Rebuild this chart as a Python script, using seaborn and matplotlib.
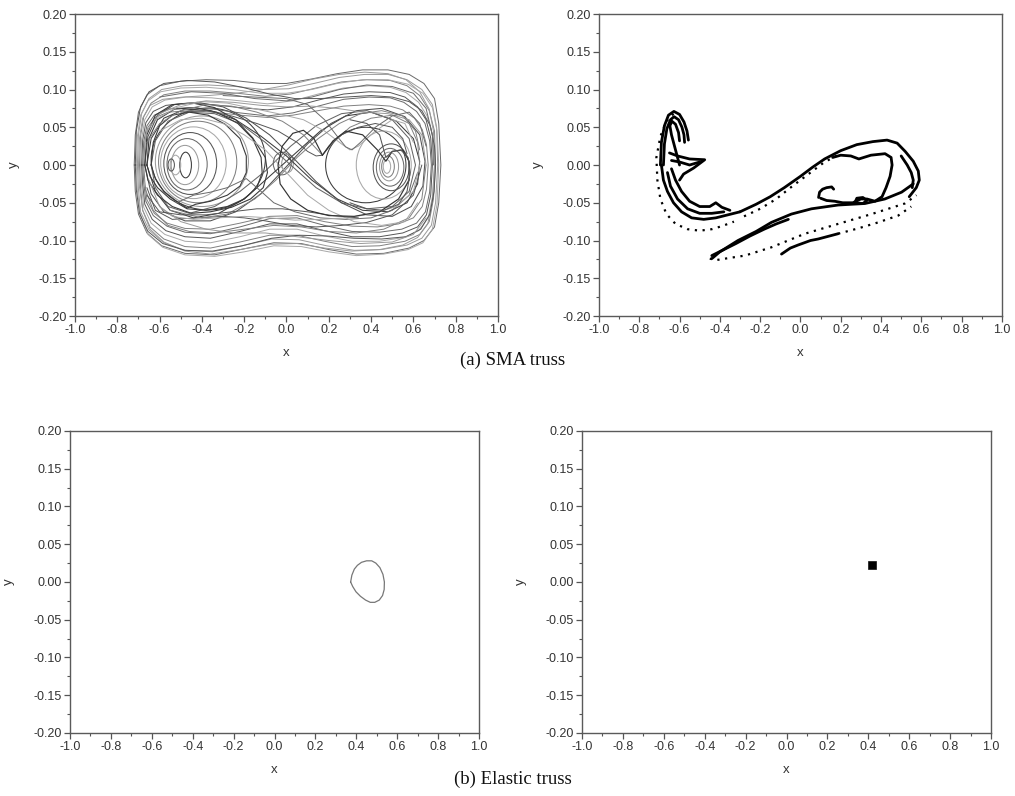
import numpy as np
import matplotlib
matplotlib.use("Agg")
import matplotlib.pyplot as plt
from matplotlib.patches import Ellipse
from matplotlib.ticker import MultipleLocator, FormatStrFormatter
import seaborn as sns

# ---------------- data ----------------
X_TICKS = [-1.0, -0.8, -0.6, -0.4, -0.2, 0.0, 0.2, 0.4, 0.6, 0.8, 1.0]
Y_TICKS = [-0.20, -0.15, -0.10, -0.05, 0.00, 0.05, 0.10, 0.15, 0.20]
CAPTIONS = ["(a) SMA truss", "(b) Elastic truss"]

# (a) left: phase trajectory of the SMA truss -- large orbits around both wells
OUT1 = [(-0.72,0.0),(-0.715,0.04),(-0.70,0.07),(-0.66,0.093),(-0.60,0.105),(-0.50,0.111),(-0.38,0.113),(-0.25,0.112),(-0.12,0.108),(0.00,0.108),(0.12,0.114),(0.24,0.121),(0.36,0.126),(0.48,0.126),(0.58,0.12),(0.65,0.108),(0.70,0.088),(0.72,0.055),(0.73,0.0),(0.72,-0.05),(0.70,-0.082),(0.65,-0.1),(0.58,-0.11),(0.46,-0.117),(0.33,-0.118),(0.20,-0.112),(0.07,-0.104),(-0.06,-0.103),(-0.20,-0.111),(-0.34,-0.119),(-0.48,-0.117),(-0.59,-0.107),(-0.66,-0.09),(-0.70,-0.065),(-0.715,-0.035),(-0.72,0.0)]
OUT2 = [(-0.705,0.0),(-0.70,0.04),(-0.685,0.068),(-0.65,0.088),(-0.59,0.1),(-0.49,0.105),(-0.37,0.106),(-0.24,0.104),(-0.11,0.1),(0.01,0.101),(0.13,0.108),(0.25,0.116),(0.37,0.12),(0.48,0.12),(0.57,0.113),(0.64,0.1),(0.69,0.08),(0.71,0.05),(0.715,0.0),(0.705,-0.05),(0.685,-0.08),(0.64,-0.097),(0.57,-0.106),(0.45,-0.112),(0.32,-0.113),(0.19,-0.107),(0.06,-0.099),(-0.07,-0.098),(-0.21,-0.107),(-0.35,-0.115),(-0.48,-0.113),(-0.58,-0.103),(-0.65,-0.086),(-0.69,-0.062),(-0.70,-0.032),(-0.705,0.0)]
OUT3 = [(-0.695,0.0),(-0.69,0.038),(-0.675,0.064),(-0.64,0.082),(-0.58,0.093),(-0.48,0.098),(-0.36,0.098),(-0.23,0.095),(-0.10,0.091),(0.02,0.094),(0.14,0.102),(0.26,0.11),(0.38,0.113),(0.49,0.112),(0.57,0.105),(0.63,0.092),(0.675,0.072),(0.70,0.045),(0.705,0.0),(0.695,-0.045),(0.675,-0.075),(0.63,-0.092),(0.56,-0.101),(0.44,-0.107),(0.31,-0.108),(0.18,-0.101),(0.05,-0.093),(-0.08,-0.093),(-0.22,-0.102),(-0.36,-0.11),(-0.48,-0.108),(-0.58,-0.098),(-0.645,-0.082),(-0.68,-0.06),(-0.69,-0.03),(-0.695,0.0)]
OUT4 = [(-0.69,0.0),(-0.685,0.035),(-0.67,0.06),(-0.635,0.077),(-0.575,0.086),(-0.475,0.09),(-0.355,0.089),(-0.22,0.085),(-0.09,0.081),(0.03,0.085),(0.15,0.094),(0.27,0.102),(0.39,0.105),(0.49,0.103),(0.565,0.096),(0.625,0.083),(0.665,0.065),(0.69,0.04),(0.70,0.0),(0.69,-0.042),(0.67,-0.07),(0.625,-0.087),(0.555,-0.096),(0.44,-0.101),(0.31,-0.101),(0.18,-0.094),(0.05,-0.085),(-0.08,-0.085),(-0.22,-0.095),(-0.36,-0.103),(-0.48,-0.101),(-0.575,-0.092),(-0.64,-0.077),(-0.675,-0.056),(-0.685,-0.028),(-0.69,0.0)]
OUT5 = [(-0.685,0.0),(-0.68,0.033),(-0.665,0.056),(-0.63,0.071),(-0.57,0.079),(-0.47,0.082),(-0.35,0.08),(-0.22,0.076),(-0.09,0.073),(0.03,0.077),(0.15,0.086),(0.27,0.094),(0.39,0.097),(0.49,0.096),(0.56,0.09),(0.62,0.077),(0.66,0.06),(0.682,0.036),(0.69,0.0),(0.682,-0.04),(0.662,-0.066),(0.62,-0.082),(0.55,-0.09),(0.44,-0.095),(0.31,-0.095),(0.18,-0.087),(0.05,-0.078),(-0.08,-0.078),(-0.22,-0.088),(-0.36,-0.097),(-0.48,-0.095),(-0.57,-0.087),(-0.635,-0.072),(-0.67,-0.052),(-0.68,-0.026),(-0.685,0.0)]
OUT6 = [(-0.68,0.0),(-0.675,0.031),(-0.66,0.052),(-0.625,0.066),(-0.565,0.074),(-0.465,0.076),(-0.345,0.074),(-0.22,0.069),(-0.09,0.065),(0.03,0.069),(0.15,0.078),(0.27,0.087),(0.39,0.09),(0.49,0.089),(0.555,0.083),(0.615,0.071),(0.655,0.055),(0.677,0.032),(0.685,0.0),(0.677,-0.036),(0.657,-0.062),(0.615,-0.077),(0.545,-0.085),(0.44,-0.089),(0.31,-0.088),(0.18,-0.08),(0.05,-0.07),(-0.08,-0.071),(-0.22,-0.082),(-0.36,-0.091),(-0.48,-0.089),(-0.565,-0.081),(-0.63,-0.067),(-0.665,-0.048),(-0.675,-0.024),(-0.68,0.0)]
OUT7 = [(-0.70,0.0),(-0.695,0.036),(-0.68,0.062),(-0.645,0.079),(-0.585,0.087),(-0.49,0.09),(-0.37,0.092),(-0.24,0.095),(-0.11,0.1),(0.01,0.106),(0.13,0.114),(0.25,0.12),(0.37,0.123),(0.48,0.121),(0.565,0.113),(0.63,0.097),(0.675,0.074),(0.695,0.045),(0.70,0.0),(0.69,-0.048),(0.668,-0.078),(0.62,-0.096),(0.55,-0.106),(0.44,-0.112),(0.31,-0.114),(0.18,-0.11),(0.05,-0.104),(-0.08,-0.105),(-0.22,-0.112),(-0.36,-0.118),(-0.48,-0.114),(-0.58,-0.102),(-0.645,-0.085),(-0.68,-0.06),(-0.695,-0.03),(-0.70,0.0)]
OUT8 = [(-0.675,0.0),(-0.67,0.03),(-0.655,0.05),(-0.62,0.063),(-0.56,0.07),(-0.46,0.072),(-0.34,0.07),(-0.22,0.066),(-0.09,0.063),(0.03,0.066),(0.15,0.072),(0.27,0.078),(0.39,0.08),(0.49,0.078),(0.55,0.073),(0.605,0.062),(0.642,0.047),(0.662,0.027),(0.67,0.0),(0.662,-0.032),(0.642,-0.055),(0.6,-0.07),(0.53,-0.078),(0.43,-0.082),(0.31,-0.081),(0.18,-0.075),(0.05,-0.067),(-0.08,-0.068),(-0.22,-0.077),(-0.36,-0.085),(-0.48,-0.084),(-0.565,-0.077),(-0.625,-0.064),(-0.66,-0.046),(-0.67,-0.022),(-0.675,0.0)]
OUT9 = [(-0.71,0.0),(-0.705,0.038),(-0.69,0.066),(-0.655,0.085),(-0.595,0.097),(-0.5,0.102),(-0.38,0.103),(-0.25,0.1),(-0.12,0.095),(0.0,0.095),(0.12,0.1),(0.24,0.108),(0.36,0.113),(0.48,0.113),(0.575,0.107),(0.645,0.095),(0.69,0.076),(0.712,0.045),(0.72,0.0),(0.712,-0.052),(0.69,-0.085),(0.645,-0.103),(0.575,-0.112),(0.46,-0.118),(0.33,-0.12),(0.2,-0.115),(0.07,-0.108),(-0.06,-0.107),(-0.2,-0.115),(-0.34,-0.121),(-0.48,-0.119),(-0.585,-0.109),(-0.655,-0.092),(-0.69,-0.066),(-0.705,-0.034),(-0.71,0.0)]
OUT10 = [(-0.715,0.0),(-0.71,0.045),(-0.69,0.077),(-0.65,0.097),(-0.58,0.108),(-0.47,0.112),(-0.34,0.11),(-0.21,0.103),(-0.08,0.094),(0.04,0.088),(0.16,0.088),(0.28,0.09),(0.40,0.092),(0.50,0.09),(0.58,0.084),(0.64,0.072),(0.68,0.052),(0.70,0.025),(0.705,0.0),(0.698,-0.035),(0.678,-0.065),(0.635,-0.085),(0.565,-0.095),(0.45,-0.098),(0.32,-0.097),(0.19,-0.094),(0.06,-0.093),(-0.07,-0.097),(-0.21,-0.107),(-0.35,-0.114),(-0.48,-0.113),(-0.585,-0.104),(-0.655,-0.088),(-0.695,-0.064),(-0.71,-0.033),(-0.715,0.0)]

# figure-eight passages between the wells
FIG1 = [(-0.66,0.0),(-0.64,0.035),(-0.58,0.062),(-0.48,0.074),(-0.36,0.072),(-0.24,0.06),(-0.12,0.038),(0.0,0.012),(0.12,-0.02),(0.24,-0.045),(0.36,-0.06),(0.48,-0.062),(0.57,-0.05),(0.62,-0.025),(0.63,0.005),(0.60,0.035),(0.52,0.058),(0.40,0.07),(0.28,0.065),(0.16,0.045),(0.04,0.015),(-0.08,-0.015),(-0.20,-0.045),(-0.32,-0.064),(-0.44,-0.07),(-0.55,-0.06),(-0.62,-0.035),(-0.66,0.0)]
FIG2 = [(-0.64,0.0),(-0.62,0.032),(-0.56,0.058),(-0.46,0.07),(-0.34,0.068),(-0.22,0.055),(-0.10,0.03),(0.02,0.0),(0.14,-0.03),(0.26,-0.05),(0.38,-0.058),(0.50,-0.055),(0.58,-0.035),(0.61,0.0),(0.58,0.035),(0.50,0.06),(0.38,0.072),(0.26,0.068),(0.14,0.052),(0.02,0.025),(-0.10,-0.008),(-0.22,-0.035),(-0.34,-0.055),(-0.46,-0.064),(-0.56,-0.055),(-0.62,-0.03),(-0.64,0.0)]
FIG3 = [(-0.67,0.0),(-0.655,0.038),(-0.61,0.066),(-0.53,0.08),(-0.42,0.083),(-0.3,0.077),(-0.19,0.062),(-0.08,0.04),(0.03,0.01),(0.14,-0.022),(0.26,-0.05),(0.38,-0.066),(0.5,-0.068),(0.59,-0.055),(0.645,-0.028),(0.655,0.005),(0.63,0.04),(0.56,0.064),(0.45,0.075),(0.33,0.072),(0.21,0.055),(0.1,0.028),(-0.01,-0.005),(-0.12,-0.038),(-0.24,-0.062),(-0.36,-0.074),(-0.48,-0.074),(-0.58,-0.062),(-0.64,-0.038),(-0.67,0.0)]

# loops around the left well
LEFT1 = [(-0.66,0.0),(-0.65,0.035),(-0.61,0.06),(-0.53,0.074),(-0.43,0.076),(-0.33,0.07),(-0.23,0.055),(-0.16,0.035),(-0.12,0.01),(-0.115,-0.01),(-0.14,-0.03),(-0.2,-0.045),(-0.28,-0.055),(-0.38,-0.06),(-0.47,-0.058),(-0.55,-0.045),(-0.61,-0.03),(-0.645,-0.015),(-0.66,0.0)]
LEFT2 = [(-0.64,0.0),(-0.63,0.03),(-0.6,0.052),(-0.54,0.066),(-0.46,0.07),(-0.37,0.066),(-0.29,0.054),(-0.22,0.035),(-0.19,0.012),(-0.19,-0.01),(-0.22,-0.028),(-0.28,-0.04),(-0.36,-0.048),(-0.43,-0.052),(-0.47,-0.057),(-0.52,-0.048),(-0.58,-0.035),(-0.62,-0.018),(-0.64,0.0)]
LEFT3 = [(-0.67,0.0),(-0.66,0.04),(-0.62,0.066),(-0.54,0.08),(-0.44,0.082),(-0.34,0.076),(-0.24,0.06),(-0.16,0.036),(-0.1,0.01),(-0.09,-0.01),(-0.11,-0.03),(-0.17,-0.045),(-0.26,-0.056),(-0.36,-0.062),(-0.45,-0.064),(-0.54,-0.055),(-0.61,-0.04),(-0.655,-0.02),(-0.67,0.0)]
# passing bands
BAND1 = [(-0.66,0.03),(-0.60,0.055),(-0.50,0.072),(-0.38,0.08),(-0.26,0.078),(-0.14,0.07),(-0.02,0.058),(0.08,0.04),(0.14,0.022),(0.17,0.013),(0.22,0.03),(0.30,0.05),(0.40,0.062),(0.50,0.066),(0.58,0.055),(0.62,0.03),(0.63,0.0)]
BAND2 = [(-0.62,0.06),(-0.52,0.076),(-0.40,0.084),(-0.28,0.082),(-0.16,0.075),(-0.04,0.068),(0.08,0.06),(0.18,0.045),(0.26,0.028),(0.30,0.02),(0.34,0.025),(0.42,0.045),(0.50,0.06),(0.56,0.055),(0.60,0.03)]
BAND3 = [(0.64,0.0),(0.60,-0.04),(0.50,-0.066),(0.38,-0.076),(0.26,-0.08),(0.14,-0.082),(0.02,-0.08),(-0.10,-0.074),(-0.20,-0.07),(-0.30,-0.068),(-0.42,-0.07),(-0.54,-0.072),(-0.62,-0.06),(-0.66,-0.03)]
BAND4 = [(-0.52,-0.05),(-0.44,-0.04),(-0.36,-0.036),(-0.28,-0.03),(-0.22,-0.022),(-0.19,-0.018),(-0.14,-0.03),(-0.06,-0.05),(0.04,-0.062),(0.16,-0.07),(0.28,-0.072),(0.40,-0.07),(0.50,-0.06),(0.58,-0.04),(0.62,-0.01)]
BAND5 = [(-0.68,0.01),(-0.66,0.045),(-0.6,0.068),(-0.5,0.08),(-0.38,0.085),(-0.25,0.083),(-0.12,0.079),(0.0,0.077),(0.12,0.078),(0.24,0.075),(0.36,0.07),(0.48,0.068),(0.58,0.06),(0.64,0.04),(0.66,0.0)]
BAND6 = [(0.66,0.0),(0.64,-0.045),(0.58,-0.07),(0.46,-0.085),(0.33,-0.09),(0.2,-0.088),(0.07,-0.082),(-0.06,-0.08),(-0.2,-0.085),(-0.34,-0.09),(-0.46,-0.088),(-0.56,-0.08),(-0.63,-0.06),(-0.67,-0.03)]
BAND7 = [(0.63,0.0),(0.6,-0.035),(0.52,-0.055),(0.4,-0.065),(0.28,-0.07),(0.16,-0.072),(0.04,-0.073),(-0.08,-0.07),(-0.2,-0.068),(-0.32,-0.07),(-0.44,-0.072),(-0.54,-0.068),(-0.6,-0.055)]
BAND8 = [(-0.5,0.07),(-0.38,0.072),(-0.26,0.065),(-0.14,0.055),(-0.04,0.045),(0.05,0.03),(0.1,0.018),(0.14,0.012),(0.17,0.013),(0.2,0.025),(0.26,0.04),(0.34,0.05),(0.42,0.055),(0.5,0.05),(0.55,0.035),(0.57,0.015)]
BAND9 = [(-0.6,0.09),(-0.45,0.097),(-0.3,0.095),(-0.15,0.088),(0.0,0.085),(0.12,0.09),(0.25,0.1),(0.38,0.106),(0.5,0.104),(0.6,0.095),(0.66,0.075),(0.69,0.04),(0.695,0.0)]
BAND10 = [(-0.65,-0.02),(-0.6,-0.055),(-0.5,-0.075),(-0.38,-0.085),(-0.25,-0.09),(-0.1,-0.09),(0.05,-0.095),(0.2,-0.1),(0.35,-0.104),(0.5,-0.102),(0.6,-0.092),(0.66,-0.07)]
BAND11 = [(-0.55,-0.06),(-0.4,-0.07),(-0.28,-0.065),(-0.15,-0.045),(-0.05,-0.02),(0.05,0.01),(0.15,0.035),(0.25,0.055),(0.35,0.068),(0.45,0.072),(0.55,0.065),(0.61,0.045),(0.63,0.02)]
BAND12 = [(-0.6,0.045),(-0.5,0.06),(-0.4,0.062),(-0.3,0.055),(-0.2,0.04),(-0.1,0.02),(0.0,-0.01),(0.1,-0.04),(0.2,-0.06),(0.32,-0.075),(0.45,-0.08),(0.56,-0.075),(0.62,-0.05)]
BAND13 = [(-0.66,-0.04),(-0.6,-0.062),(-0.5,-0.066),(-0.38,-0.066),(-0.26,-0.062),(-0.14,-0.058),(-0.02,-0.058),(0.1,-0.062),(0.22,-0.067),(0.34,-0.07)]
BAND14 = [(-0.3,0.092),(-0.15,0.09),(0.0,0.088),(0.1,0.08),(0.18,0.06),(0.24,0.038),(0.28,0.024),(0.31,0.02),(0.35,0.03),(0.42,0.05),(0.5,0.065),(0.58,0.07),(0.63,0.055),(0.66,0.025)]
# heart-shaped loop and right-lobe turn
HEART = [(0.17,0.013),(0.13,0.035),(0.08,0.046),(0.03,0.042),(-0.02,0.025),(-0.04,0.0),(-0.03,-0.025),(0.02,-0.045),(0.10,-0.06),(0.20,-0.067),(0.32,-0.068),(0.44,-0.062),(0.53,-0.045),(0.58,-0.02),(0.58,0.005),(0.55,0.02),(0.50,0.018),(0.47,0.005),(0.43,0.02),(0.36,0.04),(0.28,0.045),(0.22,0.032),(0.17,0.013)]
RIGHT1 = [(0.3,0.06),(0.38,0.055),(0.44,0.04),(0.47,0.01),(0.5,0.018),(0.54,0.02),(0.575,0.01),(0.585,-0.01),(0.57,-0.035),(0.53,-0.052),(0.46,-0.06),(0.38,-0.058),(0.3,-0.05)]

# near-elliptic loops: (centre x, centre y, width, height)
LOOP_CX = [-0.37, -0.40, -0.42, -0.44, -0.455, -0.47, -0.48, -0.477, -0.525, -0.545, -0.02, 0.005, 0.375, 0.46, 0.495, 0.49, 0.485, 0.48, 0.475]
LOOP_CY = [0.008, 0.005, 0.004, 0.003, 0.002, 0.001, 0.0, 0.0, 0.0, 0.0, 0.002, 0.002, 0.0, 0.0, -0.003, -0.003, -0.002, -0.002, -0.002]
LOOP_W = [0.54, 0.44, 0.37, 0.31, 0.25, 0.19, 0.13, 0.055, 0.05, 0.03, 0.085, 0.055, 0.38, 0.26, 0.17, 0.13, 0.09, 0.06, 0.035]
LOOP_H = [0.135, 0.12, 0.108, 0.095, 0.082, 0.068, 0.052, 0.034, 0.026, 0.016, 0.03, 0.024, 0.1, 0.09, 0.062, 0.05, 0.038, 0.028, 0.018]

# (a) right: Poincare section (dense bands)
P_HOOK_OUT = [(-0.695,0.0),(-0.69,0.03),(-0.675,0.052),(-0.655,0.066),(-0.628,0.071),(-0.6,0.067),(-0.578,0.057),(-0.563,0.045),(-0.556,0.033)]
P_HOOK_MID = [(-0.68,0.0),(-0.675,0.028),(-0.663,0.048),(-0.645,0.06),(-0.627,0.064),(-0.605,0.06),(-0.588,0.05),(-0.578,0.04),(-0.575,0.03)]
P_HOOK_IN = [(-0.6,0.0),(-0.62,0.02),(-0.64,0.04),(-0.648,0.052),(-0.638,0.058),(-0.62,0.054),(-0.605,0.043),(-0.6,0.032)]
P_ZIGZAG = [(-0.65,0.016),(-0.61,0.012),(-0.55,0.008),(-0.475,0.007),(-0.53,-0.004),(-0.58,-0.012),(-0.6,-0.02)]
P_ZIGZAG2 = [(-0.64,0.006),(-0.6,0.004),(-0.55,0.0),(-0.5,0.004)]
P_BAND_A = [(-0.69,0.0),(-0.68,-0.02),(-0.66,-0.035),(-0.63,-0.05),(-0.59,-0.062),(-0.54,-0.07),(-0.48,-0.072),(-0.42,-0.07),(-0.36,-0.066),(-0.3,-0.062)]
P_BAND_B = [(-0.64,-0.005),(-0.62,-0.02),(-0.59,-0.035),(-0.55,-0.048),(-0.5,-0.055),(-0.45,-0.055),(-0.42,-0.05),(-0.39,-0.056),(-0.35,-0.06)]
P_BAND_C = [(-0.66,-0.01),(-0.645,-0.028),(-0.61,-0.045),(-0.56,-0.058),(-0.5,-0.064),(-0.44,-0.064),(-0.38,-0.062)]
P_MAIN = [(-0.3,-0.062),(-0.22,-0.052),(-0.15,-0.042),(-0.08,-0.03),(0.0,-0.015),(0.06,-0.003),(0.12,0.008),(0.2,0.019),(0.28,0.027),(0.36,0.031),(0.43,0.033),(0.48,0.029),(0.52,0.018),(0.56,0.005),(0.585,-0.008),(0.59,-0.02),(0.575,-0.03),(0.54,-0.042)]
P_INNER = [(0.16,0.01),(0.2,0.013),(0.25,0.012),(0.29,0.008),(0.35,0.013),(0.42,0.015),(0.45,0.01),(0.455,0.0),(0.445,-0.015),(0.425,-0.03),(0.405,-0.042),(0.37,-0.048),(0.33,-0.045),(0.3,-0.045),(0.26,-0.05),(0.21,-0.05),(0.17,-0.048),(0.13,-0.047),(0.1,-0.044)]
P_LITTLE_HOOK = [(0.09,-0.043),(0.095,-0.036),(0.11,-0.032),(0.13,-0.03),(0.155,-0.029),(0.165,-0.032)]
P_BLOB = [(0.27,-0.05),(0.28,-0.044),(0.31,-0.043),(0.33,-0.047),(0.31,-0.051),(0.27,-0.05)]
P_RIGHT_IN = [(0.5,0.012),(0.53,0.0),(0.55,-0.01),(0.56,-0.02),(0.555,-0.03)]
P_TAIL_UP = [(-0.44,-0.124),(-0.4,-0.115),(-0.31,-0.1),(-0.22,-0.088),(-0.144,-0.076),(-0.045,-0.065),(0.055,-0.058),(0.187,-0.053),(0.32,-0.051),(0.419,-0.045),(0.502,-0.036),(0.56,-0.025)]
P_TAIL_IN = [(-0.44,-0.12),(-0.38,-0.112),(-0.32,-0.104),(-0.25,-0.094),(-0.18,-0.085),(-0.12,-0.078),(-0.06,-0.072)]
P_LOW = [(-0.094,-0.118),(-0.05,-0.11),(-0.012,-0.106),(0.05,-0.1),(0.088,-0.098),(0.187,-0.091)]
# sparse (dotted) parts of the section
S_OUTER = [(-0.63,0.068),(-0.665,0.058),(-0.695,0.038),(-0.715,0.01),(-0.71,-0.02),(-0.695,-0.045),(-0.665,-0.065),(-0.62,-0.078),(-0.56,-0.085),(-0.5,-0.087),(-0.44,-0.085),(-0.39,-0.081),(-0.33,-0.075)]
S_TAIL = [(-0.45,-0.124),(-0.42,-0.126),(-0.35,-0.123),(-0.276,-0.12),(-0.144,-0.109),(0.022,-0.091),(0.187,-0.078),(0.353,-0.065),(0.518,-0.051),(0.576,-0.04)]
S_LOW = [(0.187,-0.091),(0.286,-0.084),(0.386,-0.076),(0.485,-0.067),(0.55,-0.055)]
S_MID = [(-0.28,-0.068),(-0.2,-0.058),(-0.12,-0.045),(-0.04,-0.028),(0.04,-0.012),(0.12,0.004),(0.2,0.015)]

# (b) left: periodic orbit of the elastic truss
ELASTIC = [(0.372,0.0),(0.378,0.009),(0.39,0.017),(0.405,0.022),(0.425,0.026),(0.45,0.028),(0.475,0.028),(0.495,0.025),(0.515,0.019),(0.53,0.01),(0.537,0.0),(0.536,-0.01),(0.528,-0.018),(0.512,-0.024),(0.49,-0.027),(0.468,-0.027),(0.445,-0.024),(0.42,-0.019),(0.398,-0.013),(0.382,-0.006),(0.372,0.0)]
# (b) right: single fixed point of the Poincare map
FIX_X = [0.42]
FIX_Y = [0.022]

# ---------------- figure ----------------
sns.set_theme(style="ticks")
plt.rcParams["font.family"] = ["Liberation Sans", "DejaVu Sans"]
plt.rcParams["axes.unicode_minus"] = False

fig = plt.figure(figsize=(10.15, 7.96), dpi=100)
fig.patch.set_facecolor("white")
ax_tl = fig.add_axes([0.0739, 0.603, 0.4167, 0.3794])
ax_tr = fig.add_axes([0.5901, 0.603, 0.3970, 0.3794])
ax_bl = fig.add_axes([0.0690, 0.0792, 0.4030, 0.3794])
ax_br = fig.add_axes([0.5734, 0.0792, 0.4030, 0.3794])


def style(ax):
    ax.set_xlim(-1.0, 1.0)
    ax.set_ylim(-0.2, 0.2)
    ax.set_xticks(X_TICKS)
    ax.set_yticks(Y_TICKS)
    ax.xaxis.set_minor_locator(MultipleLocator(0.1))
    ax.yaxis.set_minor_locator(MultipleLocator(0.025))
    ax.xaxis.set_major_formatter(FormatStrFormatter("%.1f"))
    ax.yaxis.set_major_formatter(FormatStrFormatter("%.2f"))
    ax.tick_params(which="major", direction="out", length=4, width=0.9, color="#555555",
                   labelsize=9, labelcolor="#333333", pad=2, top=False, right=False)
    ax.tick_params(which="minor", direction="out", length=2.5, width=0.8, color="#555555",
                   top=False, right=False)
    for s in ax.spines.values():
        s.set_visible(True)
        s.set_color("#5a5a5a")
        s.set_linewidth(1.0)
    ax.set_facecolor("white")
    ax.set_xlabel("x", fontsize=9.5, color="#333333", labelpad=8)
    ax.set_ylabel("y", fontsize=9.5, color="#333333", labelpad=13)


def curve(ax, pts, color, lw, ls="-", alpha=1.0):
    xs = [p[0] for p in pts]
    ys = [p[1] for p in pts]
    sns.lineplot(x=xs, y=ys, sort=False, estimator=None, ax=ax, color=color,
                 lw=lw, linestyle=ls, alpha=alpha)


# --- (a) left: trajectory
grays = ["#6a6a6a", "#9a9a9a", "#808080", "#a8a8a8", "#555555"]
outer = [OUT1, OUT2, OUT3, OUT4, OUT5, OUT6, OUT7, OUT8, OUT9, OUT10]
for i, o in enumerate(outer):
    curve(ax_tl, o, grays[i % len(grays)], 0.7)
for i, o in enumerate([FIG1, FIG2, FIG3]):
    curve(ax_tl, o, ["#3c3c3c", "#666666", "#505050"][i], 0.75)
for o in [LEFT1, LEFT2, LEFT3]:
    curve(ax_tl, o, "#3a3a3a", 0.8)
bands = [BAND1, BAND2, BAND3, BAND4, BAND5, BAND6, BAND7, BAND8,
         BAND9, BAND10, BAND11, BAND12, BAND13, BAND14]
for i, o in enumerate(bands):
    curve(ax_tl, o, grays[(i + 2) % len(grays)], 0.7)
curve(ax_tl, HEART, "#333333", 0.85)
curve(ax_tl, RIGHT1, "#555555", 0.75)
for i in range(len(LOOP_CX)):
    col = "#3a3a3a" if i in (0, 7, 12) else grays[i % len(grays)]
    ax_tl.add_patch(Ellipse((LOOP_CX[i], LOOP_CY[i]), LOOP_W[i], LOOP_H[i],
                            fill=False, ec=col, lw=0.75))

# --- (a) right: Poincare section
for pts in [P_HOOK_OUT, P_HOOK_MID, P_HOOK_IN, P_ZIGZAG, P_ZIGZAG2, P_BAND_A, P_BAND_B,
            P_BAND_C, P_MAIN, P_INNER, P_LITTLE_HOOK, P_BLOB, P_RIGHT_IN, P_TAIL_UP,
            P_TAIL_IN, P_LOW]:
    curve(ax_tr, pts, "black", 2.0)
for pts in [S_OUTER, S_TAIL, S_LOW, S_MID]:
    curve(ax_tr, pts, "black", 1.6, ls=(0, (1, 2.5)))

# --- (b) left: periodic orbit
curve(ax_bl, ELASTIC, "#777777", 0.9)

# --- (b) right: fixed point
sns.scatterplot(x=FIX_X, y=FIX_Y, marker="s", s=30, color="black", edgecolor="black",
                ax=ax_br, zorder=5)

for ax in (ax_tl, ax_tr, ax_bl, ax_br):
    style(ax)

fig.text(0.505, 1 - 360 / 796, CAPTIONS[0], ha="center", va="center",
         family="Liberation Serif", fontsize=13.5, color="#111111")
fig.text(0.505, 1 - 779 / 796, CAPTIONS[1], ha="center", va="center",
         family="Liberation Serif", fontsize=13.5, color="#111111")

fig.savefig("out.png", dpi=100, facecolor="white")
